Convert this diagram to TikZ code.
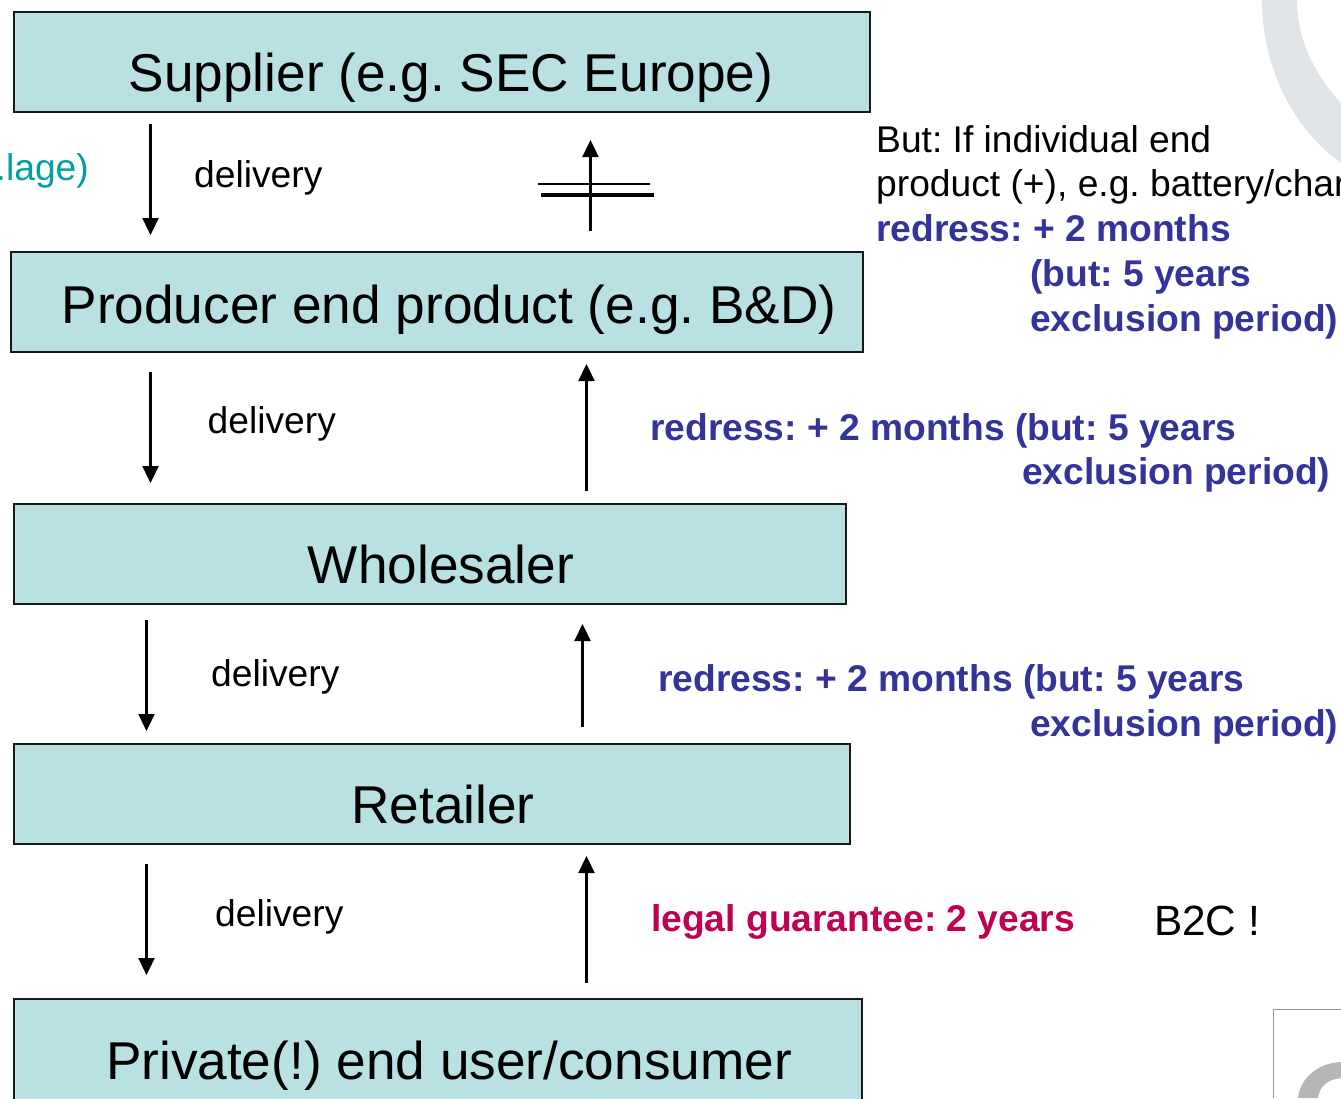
\documentclass[tikz,border=0pt]{standalone}
\usepackage{fontspec}
\setmainfont{Liberation Sans}
\usepackage{tikz}
\usetikzlibrary{arrows.meta, positioning}
\definecolor{stagecolor}{RGB}{185, 224, 227}
\definecolor{redresscolor}{RGB}{51, 51, 153}
\definecolor{guaranteecolor}{RGB}{192, 0, 80}
\definecolor{notecolor}{RGB}{0, 160, 160}
\definecolor{markcolor}{RGB}{225, 228, 230}
\definecolor{framecolor}{RGB}{150, 150, 150}
\definecolor{ringcolor}{RGB}{182, 182, 182}
\tikzset{
    stagebox/.style={draw=black!90, line width=2pt, fill=stagecolor, inner sep=0pt, text height=79pt, text depth=21pt, font=\fontsize{53.2}{60}\selectfont},
    flowtext/.style={inner sep=0pt, anchor=base west, font=\fontsize{37.2}{44.8}\selectfont, align=left},
    redresstext/.style={flowtext, text=redresscolor, font=\fontsize{37.2}{44.8}\selectfont\bfseries},
    flowarrow/.style={-{Triangle[length=17pt, width=16pt]}, line width=2.3pt}
}
\begin{document}
\frenchspacing
\begin{tikzpicture}[x=1pt, y=-1pt]
        \clip (0, 0) rectangle (1341, 1098);
        % Background marks
        \fill[markcolor] (1262, 0) .. controls (1262, 70) and (1295, 130) .. (1341, 163) -- (1341, 103) .. controls (1315, 75) and (1297, 40) .. (1297, 0) -- cycle;
        \draw[framecolor, line width=1.5pt] (1341, 1009.5) -- (1273.5, 1009.5) -- (1273.5, 1098);
        \fill[ringcolor] (1298, 1098) .. controls (1300, 1078) and (1318, 1063) .. (1341, 1062) -- (1341, 1078) .. controls (1328, 1079) and (1319, 1087) .. (1318, 1098) -- cycle;

        % Chain stages
        \node[stagebox, minimum width=856pt] (supplier) at (442, 62) {\hspace{18pt}Supplier (e.g. SEC Europe)};
        \node[stagebox, minimum width=852pt, text height=71pt, text depth=29pt] (producer) at (437, 302) {\hspace{24pt}Producer end product (e.g. B\&D)};
        \node[stagebox, minimum width=832pt] (wholesaler) at (430, 554) {\hspace{22pt}Wholesaler};
        \node[stagebox, minimum width=836pt] (retailer) at (432, 794) {\hspace{22pt}Retailer};
        \node[stagebox, minimum width=848pt, text height=80pt, text depth=120pt] (consumer) at (438, 1099) {\hspace{22pt}Private(!) end user/consumer};

        % Arrow ends
        \coordinate (down1a) at (150.5, 124);
        \coordinate (down1b) at (150.5, 235);
        \coordinate (down2a) at (150.5, 372);
        \coordinate (down2b) at (150.5, 483);
        \coordinate (down3a) at (146.5, 620);
        \coordinate (down3b) at (146.5, 731);
        \coordinate (down4a) at (146.5, 864);
        \coordinate (down4b) at (146.5, 975);
        \coordinate (up1a) at (590.5, 231);
        \coordinate (up1b) at (590.5, 140);
        \coordinate (up2a) at (586.5, 491);
        \coordinate (up2b) at (586.5, 364);
        \coordinate (up3a) at (582.5, 727);
        \coordinate (up3b) at (582.5, 624);
        \coordinate (up4a) at (586.5, 983);
        \coordinate (up4b) at (586.5, 856);

        % Delivery arrows
        \draw[flowarrow] (down1a) -- (down1b);
        \draw[flowarrow] (down2a) -- (down2b);
        \draw[flowarrow] (down3a) -- (down3b);
        \draw[flowarrow] (down4a) -- (down4b);

        % Redress arrows
        \draw[flowarrow] (up1a) -- (up1b);
        \draw[flowarrow] (up2a) -- (up2b);
        \draw[flowarrow] (up3a) -- (up3b);
        \draw[flowarrow] (up4a) -- (up4b);

        % Crossed out
        \coordinate (cross1a) at (538, 184);
        \coordinate (cross1b) at (650, 184);
        \coordinate (cross2a) at (541, 195);
        \coordinate (cross2b) at (654, 195);
        \draw[line width=1.8pt] (cross1a) -- (cross1b);
        \draw[line width=3.2pt] (cross2a) -- (cross2b);

        % Delivery labels
        \node[flowtext] (delivery1) at (194, 187) {delivery};
        \node[flowtext] (delivery2) at (207.5, 433) {delivery};
        \node[flowtext] (delivery3) at (211, 686) {delivery};
        \node[flowtext] (delivery4) at (215, 926) {delivery};

        % Side notes
        \node[flowtext, text=notecolor, anchor=base east] (anlage) at (89, 180) {.lage)};
        \node[flowtext] (butnote) at (876, 152) {But: If individual end};
        \node[flowtext] (butproduct) at (876, 196) {product (+), e.g. battery/char};
        \node[redresstext] (redress1) at (876, 241) {redress: + 2 months};
        \node[redresstext] (redress1b) at (1030, 286) {(but: 5 years};
        \node[redresstext] (redress1c) at (1030, 331) {exclusion period)};
        \node[redresstext] (redress2) at (650, 440) {redress: + 2 months (but: 5 years};
        \node[redresstext] (redress2b) at (1022, 484) {exclusion period)};
        \node[redresstext] (redress3) at (658, 691) {redress: + 2 months (but: 5 years};
        \node[redresstext] (redress3b) at (1030, 736) {exclusion period)};
        \node[redresstext, text=guaranteecolor] (guarantee) at (651, 931) {legal guarantee: 2 years};
        \node[flowtext, font=\fontsize{42.3}{48}\selectfont] (btoc) at (1154, 935) {B2C !};
\end{tikzpicture}
\end{document}
